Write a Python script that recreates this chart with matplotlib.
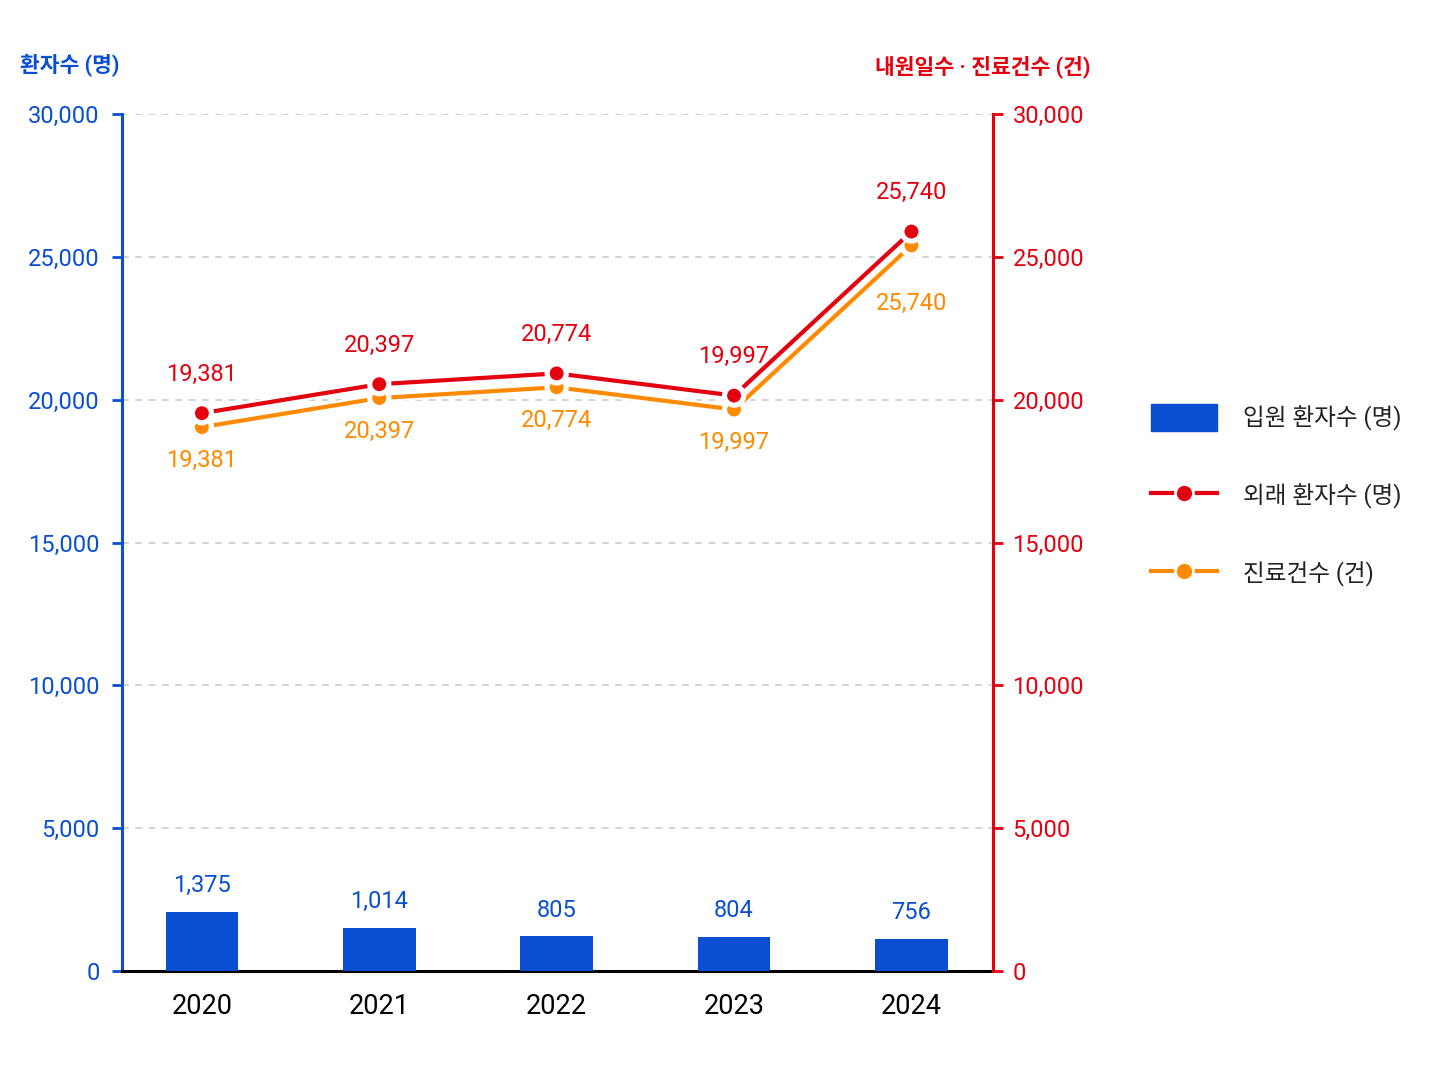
import matplotlib
matplotlib.use("Agg")
import matplotlib.pyplot as plt
import matplotlib.transforms as mtransforms
import matplotlib.patheffects as pe
from matplotlib.patches import Patch
from matplotlib.lines import Line2D

plt.rcParams['font.family'] = ['Roboto', 'Noto Sans CJK KR', 'DejaVu Sans']

years = ['2020', '2021', '2022', '2023', '2024']
inpatients = [1375, 1014, 805, 804, 756]          # 입원 환자수 (명)
outpatients = [19381, 20397, 20774, 19997, 25740]  # 외래 환자수 (명)
treatments = [19381, 20397, 20774, 19997, 25740]   # 진료건수 (건)

BLUE = '#0a4fd1'
RED = '#e3000f'
ORANGE = '#ff8a00'

fig = plt.figure(figsize=(14.48, 10.86), dpi=100)
ax = fig.add_axes([0.0843, 0.1059, 0.6015, 0.7891])
ax_bar = ax.twinx()   # hidden scale for the bars
ax2 = ax.twinx()      # right axis for the lines

x = list(range(len(years)))

# left axis
ax.set_xlim(-0.45, 4.46)
ax.set_ylim(0, 30000)
ax.set_yticks(range(0, 30001, 5000))
ax.set_yticklabels([f'{v:,}' for v in range(0, 30001, 5000)])
ax.tick_params(axis='y', colors=BLUE, labelsize=17, length=7, width=2, pad=9)
ax.tick_params(axis='x', length=0, labelsize=19.5, pad=16, labelcolor='black')
ax.set_xticks(x)
ax.set_xticklabels(years)
ax.grid(axis='y', color='#cccccc', linestyle=(0, (4, 4)), linewidth=1.2)
ax.set_axisbelow(True)
for s in ['top', 'right']:
    ax.spines[s].set_visible(False)
ax.spines['left'].set_color(BLUE)
ax.spines['left'].set_linewidth(2.2)
ax.spines['bottom'].set_color('black')
ax.spines['bottom'].set_linewidth(2.2)
ax.spines['bottom'].set_zorder(5)

# bars
ax_bar.set_ylim(0, 20000)
ax_bar.bar(x, inpatients, width=0.41, color=BLUE, zorder=2)
for xi, v in zip(x, inpatients):
    ax_bar.annotate(f'{v:,}', (xi, v), xytext=(0, 19), textcoords='offset points',
                    ha='center', va='center', fontsize=17, color=BLUE)
ax_bar.set_yticks([])
for s in ax_bar.spines.values():
    s.set_visible(False)

# right axis + lines
ax2.set_ylim(0, 30000)
ax2.set_yticks(range(0, 30001, 5000))
ax2.set_yticklabels([f'{v:,}' for v in range(0, 30001, 5000)])
ax2.tick_params(axis='y', colors=RED, labelsize=17, length=7, width=2, pad=7)
for s in ['top', 'left', 'bottom']:
    ax2.spines[s].set_visible(False)
ax2.spines['right'].set_color(RED)
ax2.spines['right'].set_linewidth(2.2)

stroke = [pe.Stroke(linewidth=6, foreground='white'), pe.Normal()]
tr_red = mtransforms.offset_copy(ax2.transData, fig=fig, x=0, y=3, units='points')
tr_org = mtransforms.offset_copy(ax2.transData, fig=fig, x=0, y=-7, units='points')
ax2.plot(x, treatments, color=ORANGE, linewidth=3, marker='o', markersize=11.5,
         markeredgecolor='white', markeredgewidth=1.5, transform=tr_org,
         path_effects=stroke, zorder=3)
ax2.plot(x, outpatients, color=RED, linewidth=3, marker='o', markersize=11.5,
         markeredgecolor='white', markeredgewidth=1.5, transform=tr_red,
         path_effects=stroke, zorder=4)

for i, (r, o) in enumerate(zip(outpatients, treatments)):
    ax2.annotate(f'{r:,}', (i, r), xytext=(0, 31), textcoords='offset points',
                 ha='center', va='center', fontsize=17, color=RED)
    dy = -31 if i < len(x) - 1 else -49
    ax2.annotate(f'{o:,}', (i, o), xytext=(0, dy), textcoords='offset points',
                 ha='center', va='center', fontsize=17, color=ORANGE)

# axis titles
fig.text(20 / 1448, 1 - 66 / 1086, '환자수 (명)', color=BLUE, fontsize=15.5,
         ha='left', va='center', fontweight='bold')
fig.text(1090 / 1448, 1 - 68 / 1086, '내원일수 · 진료건수 (건)', color=RED, fontsize=15.5,
         ha='right', va='center', fontweight='bold')

# legend
handles = [
    Patch(facecolor=BLUE, edgecolor=BLUE),
    Line2D([], [], color=RED, linewidth=3, marker='o', markersize=13,
           markeredgecolor='white', markeredgewidth=2),
    Line2D([], [], color=ORANGE, linewidth=3, marker='o', markersize=13,
           markeredgecolor='white', markeredgewidth=2),
]
labels = ['입원 환자수 (명)', '외래 환자수 (명)', '진료건수 (건)']
fig.legend(handles, labels, loc='upper left', bbox_to_anchor=(1151 / 1448, 1 - 404 / 1086),
           frameon=False, fontsize=17, handlelength=2.8, handleheight=1.4,
           handletextpad=1.1, labelspacing=2.15, borderpad=0, borderaxespad=0,
           labelcolor='#222222')

fig.savefig('out.png', dpi=100, facecolor='white')
